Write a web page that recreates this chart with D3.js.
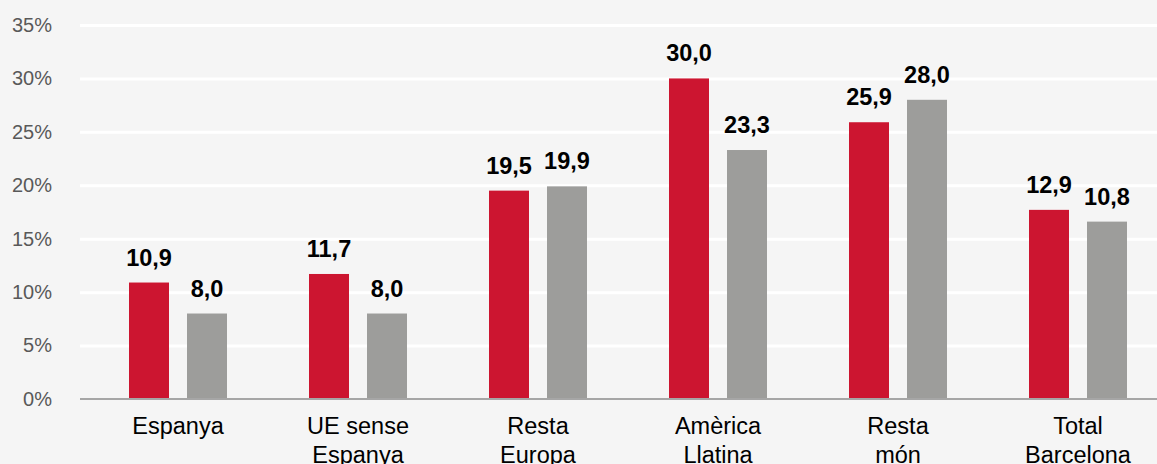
<!DOCTYPE html>
<html>
<head>
<meta charset="utf-8">
<script src="https://cdn.jsdelivr.net/npm/d3@7"></script>
<style>
  html, body { margin: 0; padding: 0; background: #f5f5f5; }
  svg { display: block; }
</style>
</head>
<body>
<svg id="chart" width="1157" height="464"></svg>
<script>
const categories = [["Espanya"], ["UE sense", "Espanya"], ["Resta", "Europa"], ["Amèrica", "Llatina"], ["Resta", "món"], ["Total", "Barcelona"]];
const series = ["s1", "s2"];
const redValues = [10.9, 11.7, 19.5, 30.0, 25.9, 17.7];
const grayValues = [8.0, 8.0, 19.9, 23.3, 28.0, 16.6];
const redLabels = ["10,9", "11,7", "19,5", "30,0", "25,9", "12,9"];
const grayLabels = ["8,0", "8,0", "19,9", "23,3", "28,0", "10,8"];
const yTicks = [0, 5, 10, 15, 20, 25, 30, 35];
const yTickLabels = ["0%", "5%", "10%", "15%", "20%", "25%", "30%", "35%"];
const colors = { s1: "#cc1530", s2: "#9d9d9b" };

const svg = d3.select("#chart");
const W = 1157, H = 464;
svg.append("rect").attr("width", W).attr("height", H).attr("fill", "#f5f5f5");

const plotLeft = 80, plotRight = 1157;
const y = d3.scaleLinear().domain([0, 35]).range([399, 25]);
const catKeys = categories.map(c => c.join(" "));
const x = d3.scaleBand().domain(catKeys).range([88, 1168]);
const xs = d3.scaleBand().domain(series).range([-49, 49]).paddingInner(0.3103).paddingOuter(0);

// gridlines
const yAxis = d3.axisLeft(y).tickValues(yTicks)
  .tickFormat((d, i) => yTickLabels[i])
  .tickSize(-(plotRight - plotLeft)).tickPadding(28);
const gy = svg.append("g").attr("transform", `translate(${plotLeft},0)`).call(yAxis);
gy.select(".domain").remove();
gy.selectAll(".tick line").attr("stroke", "#ffffff").attr("stroke-width", 3)
  .attr("display", d => d === 0 ? "none" : null);
gy.selectAll(".tick text").attr("fill", "#595959")
  .attr("font-family", "Liberation Sans, Arial, sans-serif").attr("font-size", 20);

const data = catKeys.map((k, i) => ({
  key: k,
  vals: [
    { s: "s1", v: redValues[i], label: redLabels[i] },
    { s: "s2", v: grayValues[i], label: grayLabels[i] }
  ]
}));

const groups = svg.append("g").selectAll("g").data(data).join("g")
  .attr("transform", d => `translate(${x(d.key) + x.bandwidth() / 2},0)`);

groups.selectAll("rect").data(d => d.vals).join("rect")
  .attr("x", d => xs(d.s))
  .attr("width", xs.bandwidth())
  .attr("y", d => y(d.v))
  .attr("height", d => y(0) - y(d.v))
  .attr("fill", d => colors[d.s]);

groups.selectAll("text.val").data(d => d.vals).join("text")
  .attr("class", "val")
  .attr("x", d => xs(d.s) + xs.bandwidth() / 2)
  .attr("y", d => y(d.v) - 17)
  .attr("text-anchor", "middle")
  .attr("font-family", "Liberation Sans, Arial, sans-serif")
  .attr("font-weight", "bold").attr("font-size", 23.5)
  .attr("fill", "#000")
  .text(d => d.label);

// x axis line
svg.append("line").attr("x1", plotLeft).attr("x2", plotRight)
  .attr("y1", y(0)).attr("y2", y(0))
  .attr("stroke", "#a6a6a6").attr("stroke-width", 2);

// category labels
const xAxis = d3.axisBottom(x).tickSize(0).tickFormat(() => "");
const gx = svg.append("g").attr("transform", `translate(0,${y(0)})`).call(xAxis);
gx.select(".domain").remove();
gx.selectAll(".tick").each(function(d, i) {
  const t = d3.select(this).append("text")
    .attr("text-anchor", "middle")
    .attr("font-family", "Liberation Sans, Arial, sans-serif")
    .attr("font-size", 23.5).attr("fill", "#000");
  categories[i].forEach((line, j) => {
    t.append("tspan").attr("x", 0).attr("y", 35 + j * 29).text(line);
  });
});
</script>
</body>
</html>
